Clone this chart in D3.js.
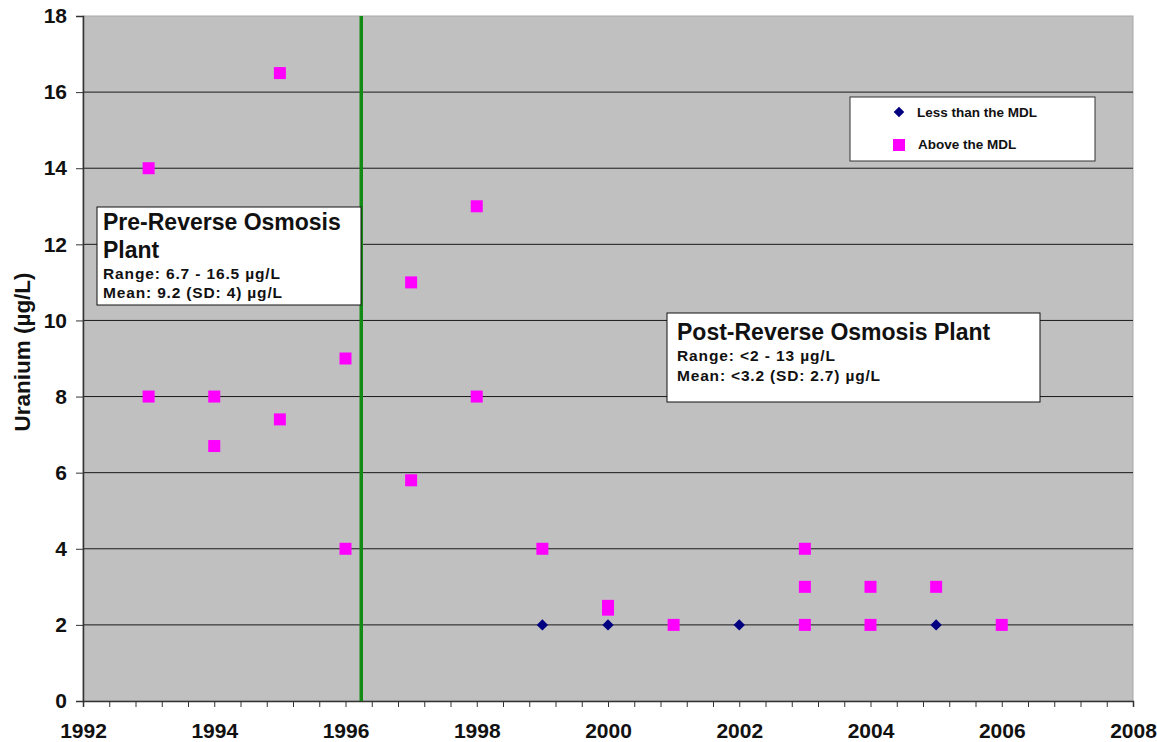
<!DOCTYPE html>
<html>
<head>
<meta charset="utf-8">
<script src="https://cdn.jsdelivr.net/npm/d3@7"></script>
<style>
  html, body { margin: 0; padding: 0; background: #fff; }
  svg { display: block; font-family: "Liberation Sans", Arial, sans-serif; }
</style>
</head>
<body>
<svg id="chart" width="1157" height="742"></svg>
<script>
// Uranium concentrations by sampling year
const aboveYears  = [1993, 1993, 1994, 1994, 1995, 1995, 1996, 1996, 1997, 1997, 1998, 1998, 1999, 2000, 2000, 2001, 2003, 2003, 2003, 2004, 2004, 2005, 2006];
const aboveValues = [14, 8, 8, 6.7, 16.5, 7.4, 9, 4, 11, 5.8, 13, 8, 4, 2.5, 2.4, 2, 4, 3, 2, 3, 2, 3, 2];
const belowYears  = [1999, 2000, 2002, 2005];
const belowValues = [2, 2, 2, 2];
const xTicks = [1992, 1994, 1996, 1998, 2000, 2002, 2004, 2006, 2008];
const yTicks = [0, 2, 4, 6, 8, 10, 12, 14, 16, 18];
const plantStart = 1996.24;

(function () {
const svg = d3.select("#chart");
const pl = 83, pr = 1133, pt = 16, pb = 701;

const x = d3.scaleLinear().domain([1992, 2008]).range([pl, pr]);
const y = d3.scaleLinear().domain([0, 18]).range([pb, pt]);

// plot background
svg.append("rect")
  .attr("x", pl).attr("y", pt)
  .attr("width", pr - pl).attr("height", pb - pt)
  .attr("fill", "#c0c0c0")
  .attr("stroke", "#a8a8a8").attr("stroke-width", 1);

// horizontal gridlines
svg.append("g").selectAll("line")
  .data(yTicks.filter(d => d > 0 && d < 18))
  .join("line")
  .attr("x1", pl).attr("x2", pr)
  .attr("y1", d => y(d)).attr("y2", d => y(d))
  .attr("stroke", "#1a1a1a").attr("stroke-width", 1);

// y axis
const yAxis = svg.append("g")
  .attr("transform", `translate(${pl},0)`)
  .call(d3.axisLeft(y).tickValues(yTicks).tickSize(7).tickPadding(9).tickFormat(d3.format("d")));
yAxis.select(".domain").attr("stroke", "#333").attr("stroke-width", 1.5);
yAxis.selectAll(".tick line").attr("stroke", "#333");
yAxis.selectAll("text")
  .attr("font-size", 21).attr("font-weight", "bold").attr("fill", "#111")
  .attr("font-family", "Liberation Sans, Arial, sans-serif");

// x axis with minor ticks every 0.4 years
const minorTicks = d3.range(0, 41).map(i => 1992 + i * 0.4);
const xMinor = svg.append("g")
  .attr("transform", `translate(0,${pb})`)
  .call(d3.axisBottom(x).tickValues(minorTicks).tickSize(6).tickFormat(""));
xMinor.select(".domain").attr("stroke", "#333").attr("stroke-width", 1.5);
xMinor.selectAll(".tick line").attr("stroke", "#333");

const xAxis = svg.append("g")
  .attr("transform", `translate(0,${pb})`)
  .call(d3.axisBottom(x).tickValues(xTicks).tickSize(0).tickPadding(22).tickFormat(d3.format("d")));
xAxis.select(".domain").remove();
xAxis.selectAll("text")
  .attr("font-size", 21).attr("font-weight", "bold").attr("fill", "#111")
  .attr("font-family", "Liberation Sans, Arial, sans-serif");

// y axis title
svg.append("text")
  .attr("transform", `translate(30,352) rotate(-90)`)
  .attr("text-anchor", "middle")
  .attr("font-size", 22.5).attr("font-weight", "bold").attr("fill", "#111")
  .text("Uranium (µg/L)");

// vertical marker for the start of the reverse osmosis plant
svg.append("line")
  .attr("x1", x(plantStart)).attr("x2", x(plantStart))
  .attr("y1", pt).attr("y2", pb)
  .attr("stroke", "#138a13").attr("stroke-width", 3.5);

// annotation boxes
function noteBox(x0, y0, w, h, lines) {
  const g = svg.append("g");
  g.append("rect")
    .attr("x", x0).attr("y", y0).attr("width", w).attr("height", h)
    .attr("fill", "#fff").attr("stroke", "#111").attr("stroke-width", 1);
  lines.forEach(l => {
    const t = g.append("text")
      .attr("x", l.x).attr("y", l.y)
      .attr("font-size", l.size).attr("font-weight", "bold").attr("fill", "#111")
      .text(l.text);
    if (l.len) t.attr("textLength", l.len).attr("lengthAdjust", "spacing");
  });
}

noteBox(97, 207, 264, 98, [
  { x: 103, y: 230, size: 23, text: "Pre-Reverse Osmosis" },
  { x: 103, y: 258, size: 23, text: "Plant" },
  { x: 103, y: 279, size: 15.5, len: 177, text: "Range: 6.7 - 16.5 µg/L" },
  { x: 103, y: 298, size: 15.5, len: 179, text: "Mean: 9.2 (SD: 4) µg/L" }
]);

noteBox(667, 313, 373, 89, [
  { x: 677, y: 340, size: 23, text: "Post-Reverse Osmosis Plant" },
  { x: 677, y: 361, size: 15.5, len: 158, text: "Range: <2 - 13 µg/L" },
  { x: 677, y: 381, size: 15.5, len: 203, text: "Mean: <3.2 (SD: 2.7) µg/L" }
]);

// data points: above the detection limit
const sq = 12;
svg.append("g").selectAll("rect")
  .data(aboveYears.map((yr, i) => ({ yr, v: aboveValues[i] })))
  .join("rect")
  .attr("x", d => x(d.yr) - sq / 2).attr("y", d => y(d.v) - sq / 2)
  .attr("width", sq).attr("height", sq)
  .attr("fill", "#ff00ff");

// data points: below the detection limit (diamonds)
svg.append("g").selectAll("path")
  .data(belowYears.map((yr, i) => ({ yr, v: belowValues[i] })))
  .join("path")
  .attr("transform", d => `translate(${x(d.yr)},${y(d.v)}) rotate(45)`)
  .attr("d", d3.symbol().type(d3.symbolSquare).size(64))
  .attr("fill", "#000080");

// legend
const lg = svg.append("g");
lg.append("rect")
  .attr("x", 850).attr("y", 97).attr("width", 245).attr("height", 64)
  .attr("fill", "#fff").attr("stroke", "#333").attr("stroke-width", 1);
lg.append("path")
  .attr("transform", "translate(899,112) rotate(45)")
  .attr("d", d3.symbol().type(d3.symbolSquare).size(56))
  .attr("fill", "#000080");
lg.append("rect")
  .attr("x", 893).attr("y", 139).attr("width", 12).attr("height", 12)
  .attr("fill", "#ff00ff");
lg.append("text").attr("x", 917).attr("y", 117)
  .attr("font-size", 13.5).attr("font-weight", "bold").attr("fill", "#111")
  .text("Less than the MDL");
lg.append("text").attr("x", 918).attr("y", 149)
  .attr("font-size", 13.5).attr("font-weight", "bold").attr("fill", "#111")
  .text("Above the MDL");
})();
</script>
</body>
</html>
